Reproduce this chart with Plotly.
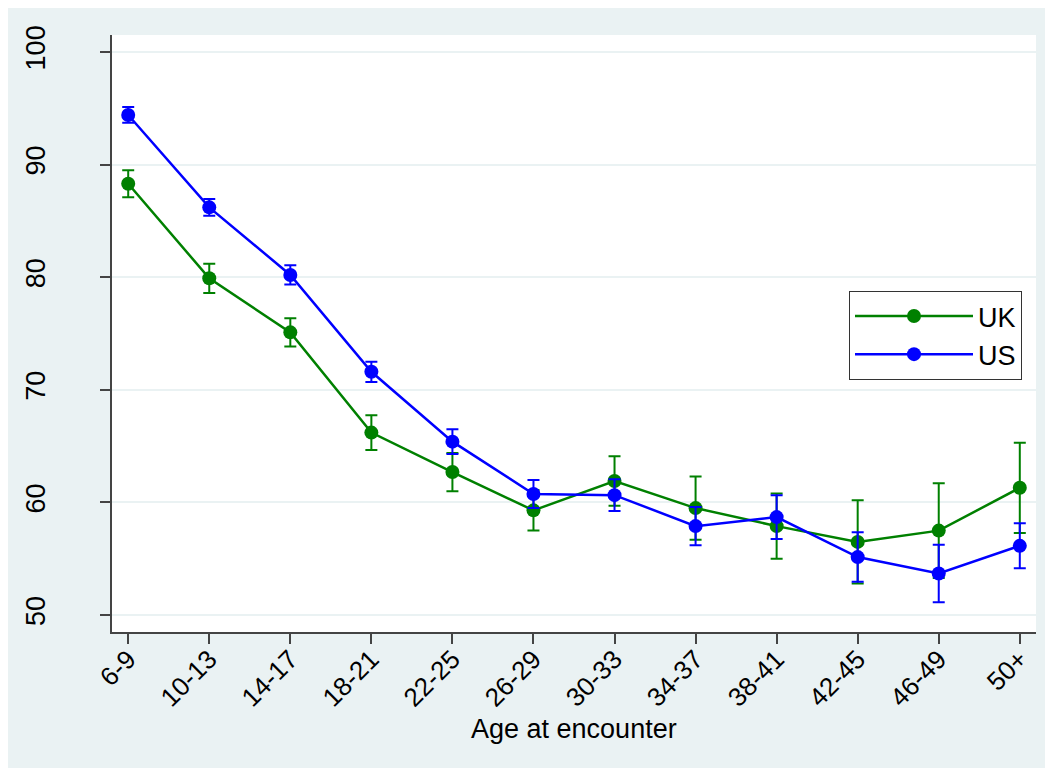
import plotly.graph_objects as go

categories = ["6-9", "10-13", "14-17", "18-21", "22-25", "26-29", "30-33",
              "34-37", "38-41", "42-45", "46-49", "50+"]
uk_values = [88.3, 79.9, 75.1, 66.2, 62.7, 59.3, 61.9, 59.5, 57.9, 56.5, 57.5, 61.3]
uk_ci_half = [1.2, 1.3, 1.25, 1.55, 1.7, 1.8, 2.2, 2.8, 2.9, 3.7, 4.2, 4.0]
us_values = [94.4, 86.2, 80.2, 71.6, 65.4, 60.75, 60.65, 57.9, 58.7, 55.15, 53.7, 56.15]
us_ci_half = [0.7, 0.75, 0.85, 0.9, 1.1, 1.25, 1.4, 1.7, 1.95, 2.2, 2.55, 2.0]
y_ticks = [50, 60, 70, 80, 90, 100]
x_title = "Age at encounter"

W, H = 1053, 768
OFF = 8  # page body margin
L, R, T, B = 112 - OFF, W - (1036 - OFF), 35 - OFF, H - (632 - OFF)
pw, ph = W - L - R, H - T - B

BG = "#EAF2F3"
FONT = "Liberation Sans, Arial, sans-serif"

def px_x(p):
    return (p - OFF - L) / pw

def px_y(p):
    return (H - B - (p - OFF)) / ph

fig = go.Figure()
fig.add_trace(go.Scatter(
    x=categories, y=uk_values, name="UK", mode="lines+markers",
    line=dict(color="#008000", width=2.5),
    marker=dict(color="#008000", size=14),
    error_y=dict(type="data", array=uk_ci_half, color="#008000", thickness=2, width=6),
))
fig.add_trace(go.Scatter(
    x=categories, y=us_values, name="US", mode="lines+markers",
    line=dict(color="#0000FF", width=2.5),
    marker=dict(color="#0000FF", size=14),
    error_y=dict(type="data", array=us_ci_half, color="#0000FF", thickness=2, width=6),
))

fig.update_layout(
    width=W, height=H,
    margin=dict(l=L, r=R, t=T, b=B, pad=0, autoexpand=False),
    paper_bgcolor=BG, plot_bgcolor="white",
    font=dict(family=FONT, size=26, color="black"),
    showlegend=True,
    legend=dict(x=px_x(849), y=px_y(291), xanchor="left", yanchor="top",
                bgcolor="white", bordercolor="#333333", borderwidth=1,
                font=dict(size=27), itemwidth=118, tracegroupgap=0),
    annotations=[dict(text=x_title, xref="paper", yref="paper",
                      x=0.5, y=px_y(729), xanchor="center", yanchor="middle",
                      showarrow=False, font=dict(size=27))],
)

fig.update_xaxes(
    type="category", range=[-0.2, 11.2], automargin=False,
    showline=True, linecolor="#444444", linewidth=1.5, mirror=False,
    ticks="outside", ticklen=10, tickcolor="#444444", tickwidth=1.5,
    tickangle=-45, tickfont=dict(size=26), ticklabelstandoff=-10,
    showgrid=False, zeroline=False,
)
fig.update_yaxes(
    range=[48.5, 101.5], tickvals=y_ticks, automargin=False,
    showline=True, linecolor="#444444", linewidth=1.5, mirror=False,
    ticks="outside", ticklen=10, tickcolor="#444444", tickwidth=1.5,
    tickangle=-90, tickfont=dict(size=27), ticklabelstandoff=44,
    showgrid=True, gridcolor=BG, gridwidth=2, zeroline=False,
)

fig.write_html("out.html")
